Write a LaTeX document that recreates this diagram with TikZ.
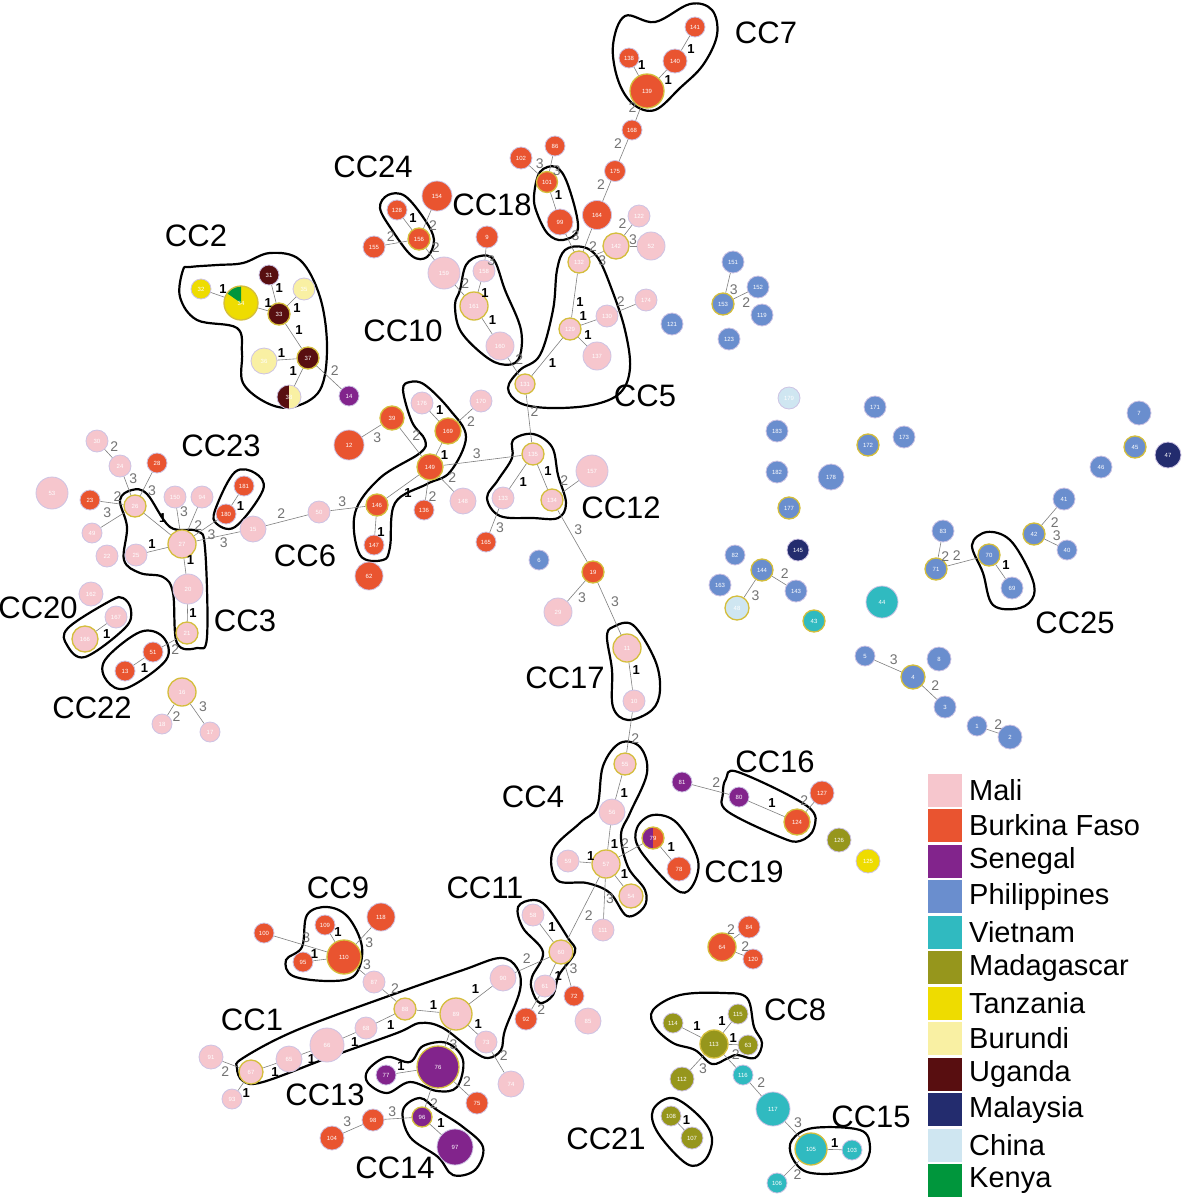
\documentclass[tikz,border=0pt]{standalone}
\usepackage{fontspec}
\setmainfont{Liberation Sans}
\definecolor{mali}{RGB}{246,198,205}
\definecolor{bf}{RGB}{233,84,48}
\definecolor{sen}{RGB}{130,36,140}
\definecolor{phi}{RGB}{106,142,206}
\definecolor{vie}{RGB}{48,186,192}
\definecolor{mad}{RGB}{150,150,28}
\definecolor{tza}{RGB}{238,220,0}
\definecolor{bur}{RGB}{249,240,163}
\definecolor{uga}{RGB}{88,14,16}
\definecolor{mal}{RGB}{35,44,110}
\definecolor{chn}{RGB}{207,230,241}
\definecolor{ken}{RGB}{0,150,60}
\definecolor{rimc}{RGB}{205,195,228}
\definecolor{fnd}{RGB}{212,190,60}
\tikzset{
  nd/.style={circle, inner sep=0pt, draw=rimc, line width=0.8pt, text=white, font=\fontsize{6}{7}\selectfont},
  fo/.style={draw=fnd, line width=1.3pt},
  edge/.style={draw=black!50, line width=0.6pt},
  el1/.style={midway, auto, inner sep=1.5pt, text=black, font=\bfseries\fontsize{13}{13}\selectfont},
  el2/.style={midway, auto, inner sep=1.5pt, text=black!55, font=\fontsize{14}{14}\selectfont},
  el3/.style={el2},
  blob/.style={draw=black, line width=2.2pt},
  cc/.style={font=\fontsize{31}{31}\selectfont, inner sep=0pt},
  legsq/.style={minimum width=34pt, minimum height=33pt, inner sep=0pt},
  legtx/.style={font=\fontsize{29}{29}\selectfont, inner sep=0pt, anchor=west}
}
\newcommand\addnd[5]{\node[nd,fill=#4,minimum size=#3pt,#5] (n#1) at (#2) {#1};}
\newcommand\ed[3]{\draw[edge] (n#1) -- node[el#3]{#3} (n#2);}
\newcommand\eds[3]{\draw[edge] (n#1) -- node[el#3,swap]{#3} (n#2);}
\begin{document}
\begin{tikzpicture}[x=1pt,y=-1pt]
\useasboundingbox[fill=white] (0,0) rectangle (1182,1200);
% ---------- blobs ----------
\draw[blob] plot[smooth cycle, tension=0.6] coordinates {(613,45) (625,16) (655,22) (690,4) (712,10) (717,35) (703,65) (680,88) (655,110) (633,104) (618,80)};
\draw[blob] plot[smooth cycle, tension=0.6] coordinates {(183,270) (180,297) (197,320) (237,328) (242,353) (243,383) (267,403) (293,407) (320,390) (327,347) (320,297) (300,260) (270,253) (243,263) (217,265) (190,267)};
\draw[blob] plot[smooth cycle, tension=0.6] coordinates {(380,208) (388,195) (405,196) (425,220) (434,240) (427,257) (412,256) (392,230)};
\draw[blob] plot[smooth cycle, tension=0.6] coordinates {(534,196) (540,172) (556,167) (568,185) (578,228) (563,240) (548,234) (537,213)};
\draw[blob] plot[smooth cycle, tension=0.6] coordinates {(460,290) (466,265) (480,256) (494,260) (505,290) (521,330) (518,360) (500,364) (480,352) (460,330) (455,305)};
\draw[blob] plot[smooth cycle, tension=0.6] coordinates {(508,388) (520,403) (550,408) (592,405) (620,393) (630,368) (625,330) (612,290) (598,258) (583,247) (565,250) (557,270) (553,310) (540,355) (520,370)};
\draw[blob] plot[smooth cycle, tension=0.6] coordinates {(513,440) (533,434) (552,447) (558,475) (566,503) (558,518) (533,518) (500,516) (487,498) (498,480) (512,458)};
\draw[blob] plot[smooth cycle, tension=0.6] coordinates {(403,390) (410,382) (425,385) (450,410) (466,437) (450,472) (427,484) (395,503) (390,547) (383,560) (360,555) (355,513) (380,478) (420,453) (425,440) (412,422)};
\draw[blob] plot[smooth cycle, tension=0.6] coordinates {(217,505) (235,472) (255,473) (263,490) (235,527) (215,522)};
\draw[blob] plot[smooth cycle, tension=0.6] coordinates {(120,500) (132,490) (147,494) (170,527) (197,531) (205,548) (207,637) (197,648) (177,643) (173,593) (163,577) (140,573) (124,560) (127,527)};
\draw[blob] plot[smooth cycle, tension=0.6] coordinates {(68,628) (110,601) (123,598) (131,610) (125,628) (85,657) (67,645)};
\draw[blob] plot[smooth cycle, tension=0.6] coordinates {(105,660) (140,632) (163,637) (166,660) (127,688) (107,681)};
\draw[blob] plot[smooth cycle, tension=0.6] coordinates {(607,637) (613,627) (633,625) (655,660) (660,690) (652,710) (628,720) (613,707) (612,670)};
\draw[blob] plot[smooth cycle, tension=0.6] coordinates {(603,766) (620,743) (640,747) (647,773) (630,813) (621,835) (628,867) (645,890) (644,907) (627,916) (610,893) (587,883) (557,880) (553,850) (580,823) (597,807)};
\draw[blob] plot[smooth cycle, tension=0.6] coordinates {(640,850) (637,828) (653,815) (677,823) (698,860) (691,888) (675,889)};
\draw[blob] plot[smooth cycle, tension=0.6] coordinates {(723,793) (726,779) (738,772) (807,806) (814,828) (800,841) (780,837) (727,811)};
\draw[blob] plot[smooth cycle, tension=0.6] coordinates {(302,947) (307,915) (327,907) (348,917) (362,947) (355,975) (330,981) (293,976) (286,960)};
\draw[blob] plot[smooth cycle, tension=0.6] coordinates {(237,1068) (243,1058) (297,1030) (397,993) (463,970) (500,958) (517,968) (520,990) (505,1030) (501,1050) (488,1058) (473,1051) (443,1028) (420,1023) (397,1033) (330,1057) (263,1082) (243,1081)};
\draw[blob] plot[smooth cycle, tension=0.6] coordinates {(518,907) (533,900) (547,907) (568,938) (575,952) (559,975) (553,995) (540,1003) (532,990) (532,977) (543,952) (523,928)};
\draw[blob] plot[smooth cycle, tension=0.6] coordinates {(368,1070) (387,1057) (410,1062) (423,1046) (447,1043) (463,1060) (457,1087) (437,1091) (410,1082) (387,1093) (368,1083)};
\draw[blob] plot[smooth cycle, tension=0.6] coordinates {(403,1110) (420,1098) (437,1110) (463,1127) (483,1147) (475,1170) (453,1175) (438,1157) (410,1137)};
\draw[blob] plot[smooth cycle, tension=0.6] coordinates {(653,1010) (680,995) (723,993) (747,998) (754,1027) (762,1043) (755,1058) (737,1055) (728,1058) (712,1064) (695,1050) (673,1043) (655,1027)};
\draw[blob] plot[smooth cycle, tension=0.6] coordinates {(653,1110) (673,1098) (700,1117) (712,1138) (705,1160) (687,1164) (658,1133)};
\draw[blob] plot[smooth cycle, tension=0.6] coordinates {(792,1140) (813,1128) (860,1130) (870,1147) (863,1165) (840,1173) (807,1172) (792,1157)};
\draw[blob] plot[smooth cycle, tension=0.6] coordinates {(972,545) (987,532) (1010,540) (1030,573) (1034,595) (1020,608) (993,605) (983,573)};
% ---------- CC labels ----------
\node[cc] (cc7) at (766,33) {CC7};
\node[cc] (cc24) at (373,167) {CC24};
\node[cc] (cc18) at (492,205) {CC18};
\node[cc] (cc2) at (196,236) {CC2};
\node[cc] (cc10) at (403,331) {CC10};
\node[cc] (cc5) at (645,396) {CC5};
\node[cc] (cc23) at (221,446) {CC23};
\node[cc] (cc12) at (621,508) {CC12};
\node[cc] (cc6) at (305,556) {CC6};
\node[cc] (cc20) at (38,608) {CC20};
\node[cc] (cc3) at (245,621) {CC3};
\node[cc] (cc22) at (92,708) {CC22};
\node[cc] (cc17) at (565,678) {CC17};
\node[cc] (cc25) at (1075,623) {CC25};
\node[cc] (cc16) at (775,762) {CC16};
\node[cc] (cc4) at (533,797) {CC4};
\node[cc] (cc19) at (744,872) {CC19};
\node[cc] (cc9) at (338,888) {CC9};
\node[cc] (cc11) at (485,888) {CC11};
\node[cc] (cc8) at (795,1010) {CC8};
\node[cc] (cc1) at (252,1020) {CC1};
\node[cc] (cc13) at (325,1095) {CC13};
\node[cc] (cc15) at (871,1117) {CC15};
\node[cc] (cc21) at (606,1139) {CC21};
\node[cc] (cc14) at (395,1168) {CC14};
% ---------- nodes ----------
\addnd{141}{695,27}{20}{bf}{}
\addnd{138}{629,58}{20}{bf}{}
\addnd{140}{675,61}{24}{bf}{}
\addnd{139}{647,91}{34}{bf}{fo}
\addnd{168}{632,130}{20}{bf}{}
\addnd{175}{615,171}{21}{bf}{}
\addnd{164}{597,215}{29}{bf}{}
\addnd{86}{555,146}{20}{bf}{}
\addnd{102}{521,158}{22}{bf}{}
\addnd{101}{547,182}{21}{bf}{fo}
\addnd{99}{560,222}{26}{bf}{}
\addnd{122}{639,216}{22}{mali}{}
\addnd{142}{616,246}{26}{mali}{fo}
\addnd{52}{651,246}{28}{mali}{}
\addnd{132}{579,262}{22}{mali}{fo}
\addnd{130}{607,316}{22}{mali}{}
\addnd{174}{646,300}{22}{mali}{}
\addnd{129}{570,329}{22}{mali}{fo}
\addnd{137}{597,356}{28}{mali}{}
\addnd{131}{525,384}{20}{mali}{fo}
\addnd{121}{672,324}{22}{phi}{}
\addnd{154}{437,196}{30}{bf}{}
\addnd{128}{397,210}{20}{bf}{}
\addnd{156}{419,239}{22}{bf}{fo}
\addnd{155}{374,247}{22}{bf}{}
\addnd{159}{444,273}{32}{mali}{}
\addnd{9}{487,237}{22}{bf}{}
\addnd{158}{484,271}{22}{mali}{}
\addnd{161}{474,306}{28}{mali}{fo}
\addnd{160}{500,346}{28}{mali}{}
\addnd{32}{201,289}{20}{tza}{}
\addnd{34}{241,303}{34}{tza}{fo, path picture={\fill[ken] (path picture bounding box.center) -- ++(90:18pt) arc[start angle=90, end angle=145, radius=18pt] -- cycle;}}
\addnd{31}{269,275}{20}{uga}{}
\addnd{35}{304,289}{22}{bur}{}
\addnd{33}{279,314}{22}{uga}{fo}
\addnd{37}{308,358}{22}{uga}{fo}
\addnd{36}{264,361}{26}{bur}{}
\addnd{38}{289,397}{24}{bur}{path picture={\fill[uga] (path picture bounding box.south west) rectangle (path picture bounding box.north);}}
\addnd{14}{349,396}{20}{sen}{}
\addnd{30}{97,441}{22}{mali}{}
\addnd{24}{120,466}{22}{mali}{}
\addnd{28}{157,463}{20}{bf}{}
\addnd{53}{52,493}{32}{mali}{}
\addnd{23}{90,500}{20}{bf}{}
\addnd{26}{135,506}{22}{mali}{fo}
\addnd{49}{92,533}{20}{mali}{}
\addnd{150}{175,497}{22}{mali}{}
\addnd{94}{202,497}{22}{mali}{}
\addnd{181}{244,486}{20}{bf}{}
\addnd{180}{226,514}{20}{bf}{}
\addnd{27}{182,544}{28}{mali}{fo}
\addnd{15}{253,529}{26}{mali}{}
\addnd{22}{107,556}{22}{mali}{}
\addnd{25}{136,555}{22}{mali}{}
\addnd{20}{188,589}{30}{mali}{}
\addnd{21}{187,633}{22}{mali}{fo}
\addnd{162}{91,594}{24}{mali}{}
\addnd{167}{116,617}{22}{mali}{}
\addnd{166}{85,639}{26}{mali}{fo}
\addnd{51}{153,652}{20}{bf}{}
\addnd{13}{125,671}{20}{bf}{}
\addnd{16}{182,692}{28}{mali}{fo}
\addnd{18}{162,724}{20}{mali}{}
\addnd{17}{210,732}{20}{mali}{}
\addnd{176}{422,403}{22}{mali}{}
\addnd{170}{481,401}{22}{mali}{}
\addnd{39}{392,418}{24}{bf}{fo}
\addnd{169}{448,431}{26}{bf}{fo}
\addnd{12}{349,445}{30}{bf}{}
\addnd{149}{430,467}{26}{bf}{fo}
\addnd{135}{533,454}{22}{mali}{fo}
\addnd{157}{592,471}{32}{mali}{}
\addnd{133}{503,498}{22}{mali}{}
\addnd{134}{552,500}{22}{mali}{fo}
\addnd{50}{319,512}{22}{mali}{}
\addnd{146}{377,505}{22}{bf}{fo}
\addnd{136}{424,510}{20}{bf}{}
\addnd{148}{463,501}{26}{mali}{}
\addnd{147}{374,545}{20}{bf}{}
\addnd{165}{486,542}{20}{bf}{}
\addnd{62}{369,576}{28}{bf}{}
\addnd{6}{539,560}{20}{phi}{}
\addnd{19}{593,572}{22}{bf}{fo}
\addnd{29}{558,612}{28}{mali}{}
\addnd{11}{627,648}{28}{mali}{fo}
\addnd{10}{634,701}{22}{mali}{}
\addnd{55}{625,764}{22}{mali}{fo}
\addnd{56}{612,812}{26}{mali}{}
\addnd{81}{682,782}{20}{sen}{}
\addnd{80}{739,797}{20}{sen}{}
\addnd{124}{797,822}{26}{bf}{fo}
\addnd{127}{822,793}{24}{bf}{}
\addnd{79}{653,838}{22}{bf}{fo, path picture={\fill[sen] (path picture bounding box.south west) rectangle (path picture bounding box.north);}}
\addnd{78}{679,869}{24}{bf}{}
\addnd{126}{839,840}{24}{mad}{}
\addnd{125}{868,861}{24}{tza}{}
\addnd{59}{568,861}{22}{mali}{}
\addnd{57}{606,864}{28}{mali}{fo}
\addnd{54}{631,896}{24}{mali}{fo}
\addnd{111}{603,930}{22}{mali}{}
\addnd{58}{533,915}{22}{mali}{}
\addnd{60}{561,952}{24}{mali}{fo}
\addnd{61}{545,986}{22}{mali}{}
\addnd{72}{574,996}{20}{bf}{}
\addnd{85}{588,1021}{26}{mali}{}
\addnd{92}{526,1019}{22}{bf}{}
\addnd{64}{722,947}{28}{bf}{fo}
\addnd{84}{749,927}{22}{bf}{}
\addnd{120}{753,959}{20}{bf}{}
\addnd{100}{264,933}{20}{bf}{}
\addnd{109}{325,925}{20}{bf}{}
\addnd{118}{381,917}{28}{bf}{}
\addnd{95}{303,962}{20}{bf}{}
\addnd{110}{344,957}{34}{bf}{fo}
\addnd{87}{374,982}{22}{mali}{}
\addnd{88}{405,1009}{22}{mali}{fo}
\addnd{89}{456,1014}{32}{mali}{fo}
\addnd{90}{503,978}{26}{mali}{}
\addnd{73}{486,1042}{22}{mali}{}
\addnd{74}{511,1084}{26}{mali}{}
\addnd{66}{327,1045}{34}{mali}{}
\addnd{68}{366,1028}{22}{mali}{}
\addnd{65}{289,1059}{26}{mali}{}
\addnd{67}{251,1072}{24}{mali}{fo}
\addnd{91}{211,1057}{24}{mali}{}
\addnd{93}{232,1099}{20}{mali}{}
\addnd{76}{438,1067}{42}{sen}{fo}
\addnd{77}{386,1075}{20}{sen}{}
\addnd{75}{477,1103}{22}{bf}{}
\addnd{98}{373,1120}{22}{bf}{}
\addnd{104}{332,1138}{24}{bf}{}
\addnd{96}{422,1117}{20}{sen}{fo}
\addnd{97}{455,1147}{36}{sen}{}
\addnd{114}{673,1023}{20}{mad}{}
\addnd{115}{738,1014}{20}{mad}{}
\addnd{113}{714,1044}{28}{mad}{fo}
\addnd{63}{748,1045}{20}{mad}{}
\addnd{112}{682,1079}{24}{mad}{}
\addnd{116}{743,1075}{20}{vie}{}
\addnd{117}{773,1109}{34}{vie}{}
\addnd{108}{671,1116}{20}{mad}{}
\addnd{107}{692,1138}{22}{mad}{}
\addnd{105}{811,1149}{32}{vie}{fo}
\addnd{103}{852,1150}{20}{vie}{}
\addnd{106}{777,1183}{20}{vie}{}
\addnd{151}{733,262}{22}{phi}{}
\addnd{152}{758,287}{22}{phi}{}
\addnd{153}{723,304}{22}{phi}{fo}
\addnd{119}{762,315}{22}{phi}{}
\addnd{123}{729,339}{22}{phi}{}
\addnd{179}{789,398}{22}{chn}{}
\addnd{171}{875,407}{22}{phi}{}
\addnd{183}{777,431}{22}{phi}{}
\addnd{173}{904,437}{22}{phi}{}
\addnd{172}{868,445}{22}{phi}{fo}
\addnd{182}{777,472}{22}{phi}{}
\addnd{178}{831,477}{26}{phi}{}
\addnd{177}{789,508}{22}{phi}{fo}
\addnd{145}{798,550}{22}{mal}{}
\addnd{82}{735,555}{20}{phi}{}
\addnd{144}{762,570}{22}{phi}{fo}
\addnd{163}{720,585}{22}{phi}{}
\addnd{143}{796,591}{22}{phi}{}
\addnd{48}{737,608}{24}{chn}{fo}
\addnd{43}{814,621}{22}{vie}{fo}
\addnd{44}{882,602}{32}{vie}{}
\addnd{7}{1139,413}{24}{phi}{}
\addnd{45}{1135,447}{22}{phi}{fo}
\addnd{47}{1168,455}{26}{mal}{}
\addnd{46}{1101,467}{22}{phi}{}
\addnd{41}{1064,499}{22}{phi}{}
\addnd{42}{1034,534}{22}{phi}{fo}
\addnd{40}{1067,550}{20}{phi}{}
\addnd{83}{943,531}{22}{phi}{}
\addnd{71}{936,569}{22}{phi}{fo}
\addnd{70}{989,555}{22}{phi}{fo}
\addnd{69}{1012,588}{22}{phi}{}
\addnd{5}{865,656}{20}{phi}{}
\addnd{8}{939,659}{24}{phi}{}
\addnd{4}{913,677}{24}{phi}{fo}
\addnd{3}{945,707}{22}{phi}{}
\addnd{1}{977,726}{20}{phi}{}
\addnd{2}{1010,737}{24}{phi}{}
% ---------- edges ----------
\ed{141}{140}{1} \ed{138}{139}{1} \ed{140}{139}{1} \eds{139}{168}{2} \eds{168}{175}{2} \eds{175}{164}{2} \ed{164}{132}{2}
\ed{86}{101}{3} \ed{102}{101}{3} \ed{101}{99}{1} \ed{99}{132}{3} \ed{142}{132}{3} \ed{142}{122}{2} \ed{142}{52}{3}
\ed{132}{129}{1} \ed{129}{130}{1} \ed{130}{174}{2} \ed{129}{137}{1} \ed{129}{131}{1} \ed{160}{131}{2} \ed{131}{135}{2}
\ed{128}{156}{1} \ed{154}{156}{2} \ed{155}{156}{2} \ed{156}{159}{2} \ed{159}{161}{2} \ed{9}{158}{3} \ed{158}{161}{1} \ed{161}{160}{1}
\ed{32}{34}{1} \ed{34}{33}{1} \ed{31}{33}{1} \ed{35}{33}{1} \ed{33}{37}{1} \ed{36}{37}{1} \ed{38}{37}{1} \ed{37}{14}{2}
\ed{30}{24}{2} \ed{24}{26}{3} \ed{28}{26}{3} \ed{23}{26}{2} \ed{49}{26}{3} \ed{26}{27}{1} \ed{150}{27}{3} \ed{94}{27}{2}
\ed{180}{27}{3} \ed{181}{180}{1} \ed{15}{27}{3} \ed{25}{27}{1} \ed{27}{20}{1} \ed{20}{21}{1} \ed{21}{51}{2} \ed{51}{13}{1}
\ed{167}{166}{1} \ed{16}{18}{2} \ed{16}{17}{3} \ed{15}{50}{2} \ed{50}{146}{3}
\ed{39}{12}{3} \ed{39}{149}{2} \ed{176}{169}{1} \ed{170}{169}{2} \ed{169}{149}{1} \ed{149}{146}{1} \ed{146}{147}{1}
\ed{149}{136}{2} \ed{149}{148}{2} \ed{149}{135}{3}
\ed{135}{133}{1} \ed{135}{134}{1} \ed{134}{157}{2} \ed{133}{165}{3} \ed{134}{19}{3} \ed{19}{29}{3} \ed{19}{11}{3}
\ed{11}{10}{1} \ed{10}{55}{2} \ed{55}{56}{1} \ed{56}{57}{1} \ed{59}{57}{1} \ed{57}{54}{1} \ed{57}{111}{3} \ed{57}{60}{2}
\ed{57}{79}{2} \ed{79}{78}{1} \ed{81}{80}{2} \ed{80}{124}{1} \ed{124}{127}{2}
\ed{144}{143}{2} \ed{144}{48}{3} \ed{151}{153}{3} \ed{152}{153}{2} \ed{41}{42}{2} \ed{42}{40}{3} \ed{83}{71}{2} \ed{71}{70}{2}
\ed{70}{69}{1} \ed{5}{4}{3} \ed{4}{3}{2} \ed{1}{2}{2}
\ed{100}{110}{3} \ed{109}{110}{1} \ed{95}{110}{1} \ed{118}{110}{3} \ed{110}{87}{3} \ed{87}{88}{2} \ed{88}{89}{1} \ed{88}{68}{1}
\ed{68}{66}{1} \ed{66}{65}{1} \ed{65}{67}{1} \ed{67}{91}{2} \ed{67}{93}{1} \ed{89}{90}{1} \ed{89}{73}{1} \ed{73}{74}{2}
\ed{89}{76}{3} \ed{77}{76}{1} \ed{76}{75}{2} \ed{76}{96}{2} \ed{96}{97}{1} \ed{98}{96}{3} \ed{104}{98}{3}
\ed{90}{60}{2} \ed{58}{60}{1} \ed{60}{61}{1} \ed{61}{92}{2} \ed{60}{72}{3}
\ed{64}{84}{2} \ed{64}{120}{2} \ed{114}{113}{1} \eds{115}{113}{1} \ed{113}{63}{1} \ed{113}{112}{3} \ed{113}{116}{2}
\ed{116}{117}{2} \ed{117}{105}{3} \ed{105}{103}{1} \ed{105}{106}{2} \ed{108}{107}{1}
% ---------- legend ----------
\foreach \c/\t [count=\i] in {mali/Mali, bf/Burkina Faso, sen/Senegal, phi/Philippines, vie/Vietnam, mad/Madagascar, tza/Tanzania, bur/Burundi, uga/Uganda, mal/Malaysia, chn/China, ken/Kenya}{
  \node[legsq, fill=\c] (sq\i) at (945,{790+35.5*(\i-1)}) {};
  \node[legtx] (lt\i) at (969,{790+35.5*(\i-1)}) {\t};
}
\end{tikzpicture}
\end{document}
